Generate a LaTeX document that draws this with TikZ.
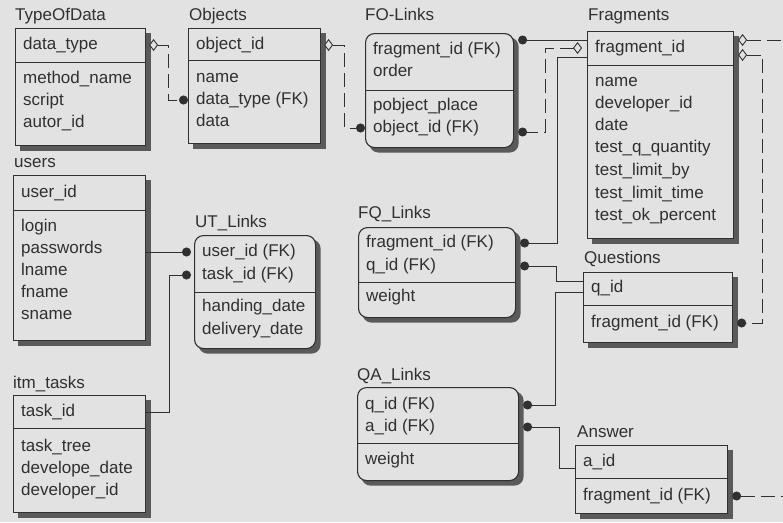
\documentclass[tikz,border=0pt]{standalone}
\usepackage{fontspec}
\setmainfont{Liberation Sans}
\usetikzlibrary{arrows.meta, backgrounds}

\definecolor{papel}{HTML}{E2E2E2}
\definecolor{tinta}{HTML}{303030}
\definecolor{sombra}{HTML}{5A5A5A}

\begin{document}
\begin{tikzpicture}[x=1pt, y=-1pt, font=\fontsize{17}{20}\selectfont,
    tabela/.style={draw=tinta, line width=1.1pt, fill=papel, anchor=north west, inner sep=0pt},
    ligtab/.style={tabela, rounded corners=9pt},
    campo/.style={anchor=west, inner sep=0pt, text height=12pt, text depth=3.5pt, text=tinta},
    linha/.style={draw=tinta, line width=0.9pt},
    tracejada/.style={linha, dash pattern=on 14pt off 6pt},
    ponto/.tip={Circle[length=9pt]},
    losango/.tip={Diamond[length=9pt, width=12pt, fill=papel]}]

    \useasboundingbox (0,0) rectangle (783,522);

    % TypeOfData
    \node[tabela, minimum width=130pt, minimum height=117pt] (tod) at (15,28) {};
    \node[campo] (tod-t) at (15,16) {TypeOfData};
    \draw[linha] (15,62) -- ++(130,0);
    \foreach \t/\y [count=\i from 0] in {data\_type/45, method\_name/79, script/101, autor\_id/123}
        \node[campo] (tod-\i) at (23,\y) {\t};

    % Objects
    \node[tabela, minimum width=132pt, minimum height=115pt] (obj) at (188,28) {};
    \node[campo] (obj-t) at (189,16) {Objects};
    \draw[linha] (188,60) -- ++(132,0);
    \foreach \t/\y [count=\i from 0] in {object\_id/45, name/78, data\_type (FK)/100, data/122}
        \node[campo] (obj-\i) at (196,\y) {\t};

    % FO-Links
    \node[ligtab, minimum width=148pt, minimum height=114pt] (fol) at (365,33) {};
    \node[campo] (fol-t) at (365,16) {FO-Links};
    \draw[linha] (365,90) -- ++(148,0);
    \foreach \t/\y [count=\i from 0] in {fragment\_id (FK)/50, order/72, pobject\_place/106, object\_id (FK)/128}
        \node[campo] (fol-\i) at (373,\y) {\t};

    % Fragments
    \node[tabela, minimum width=146pt, minimum height=207pt] (frag) at (587,31) {};
    \node[campo] (frag-t) at (588,16) {Fragments};
    \draw[linha] (587,65) -- ++(146,0);
    \foreach \t/\y [count=\i from 0] in {fragment\_id/48, name/82, developer\_id/104, date/126,
        test\_q\_quantity/148, test\_limit\_by/171, test\_limit\_time/194, test\_ok\_percent/216}
        \node[campo] (frag-\i) at (595,\y) {\t};

    % users
    \node[tabela, minimum width=132pt, minimum height=165pt] (usr) at (13,175) {};
    \node[campo] (usr-t) at (14,163) {users};
    \draw[linha] (13,210) -- ++(132,0);
    \foreach \t/\y [count=\i from 0] in {user\_id/193, login/227, passwords/249, lname/271, fname/293, sname/315}
        \node[campo] (usr-\i) at (21,\y) {\t};

    % UT_Links
    \node[ligtab, minimum width=121pt, minimum height=113pt] (ut) at (194,235) {};
    \node[campo] (ut-t) at (195,223) {UT\_Links};
    \draw[linha] (194,292) -- ++(121,0);
    \foreach \t/\y [count=\i from 0] in {user\_id (FK)/252, task\_id (FK)/275, handing\_date/307, delivery\_date/330}
        \node[campo] (ut-\i) at (202,\y) {\t};

    % itm_tasks
    \node[tabela, minimum width=132pt, minimum height=117pt] (itm) at (13,395) {};
    \node[campo] (itm-t) at (13,384) {itm\_tasks};
    \draw[linha] (13,428) -- ++(132,0);
    \foreach \t/\y [count=\i from 0] in {task\_id/412, task\_tree/447, develope\_date/469, developer\_id/491}
        \node[campo] (itm-\i) at (21,\y) {\t};

    % FQ_Links
    \node[ligtab, minimum width=157pt, minimum height=90pt] (fql) at (358,227) {};
    \node[campo] (fql-t) at (358,214) {FQ\_Links};
    \draw[linha] (358,282) -- ++(157,0);
    \foreach \t/\y [count=\i from 0] in {fragment\_id (FK)/243, q\_id (FK)/266, weight/297}
        \node[campo] (fql-\i) at (366,\y) {\t};

    % Questions
    \node[tabela, minimum width=149pt, minimum height=70pt] (qst) at (583,272) {};
    \node[campo] (qst-t) at (584,259) {Questions};
    \draw[linha] (583,305) -- ++(149,0);
    \foreach \t/\y [count=\i from 0] in {q\_id/288, fragment\_id (FK)/323}
        \node[campo] (qst-\i) at (591,\y) {\t};

    % QA_Links
    \node[ligtab, minimum width=161pt, minimum height=93pt] (qal) at (357,387) {};
    \node[campo] (qal-t) at (357,376) {QA\_Links};
    \draw[linha] (357,443) -- ++(161,0);
    \foreach \t/\y [count=\i from 0] in {q\_id (FK)/405, a\_id (FK)/427, weight/460}
        \node[campo] (qal-\i) at (365,\y) {\t};

    % Answer
    \node[tabela, minimum width=152pt, minimum height=68pt] (ans) at (575,445) {};
    \node[campo] (ans-t) at (577,433) {Answer};
    \draw[linha] (575,478) -- ++(152,0);
    \foreach \t/\y [count=\i from 0] in {a\_id/462, fragment\_id (FK)/496}
        \node[campo] (ans-\i) at (583,\y) {\t};

    % Fundo e sombras
    \begin{scope}[on background layer]
        \fill[papel] (0,0) rectangle (783,522);
        \foreach \n in {tod,obj,frag,usr,itm,qst,ans}
            \fill[sombra] ([shift={(4.5pt,-4.5pt)}]\n.south west) rectangle ([shift={(4.5pt,-4.5pt)}]\n.north east);
        \foreach \n in {fol,ut,fql,qal}
            \fill[sombra, rounded corners=9pt] ([shift={(4.5pt,-4.5pt)}]\n.south west) rectangle ([shift={(4.5pt,-4.5pt)}]\n.north east);
    \end{scope}

    % Ligacoes
    \coordinate (fora-1) at (783,40);
    \coordinate (fora-2) at (783,497);

    \draw[tracejada, losango-ponto] ([xshift=3pt]tod.east |- tod-0) -- ++(19,0) |- (obj.west |- obj-2);
    \draw[tracejada, losango-ponto] ([xshift=3pt]obj.east |- obj-0) -- ++(20,0) |- (fol.west |- fol-3);
    \draw[linha, ponto-] ([xshift=4pt,yshift=10pt]fol.east |- fol-0) -- ([yshift=10pt]frag.west |- fol-0);
    \draw[tracejada, losango-ponto] ([xshift=-5pt]frag.west |- frag-0) -- ++(-37,0) |- ([xshift=4pt,yshift=-4pt]fol.east |- fol-3);
    \draw[linha, -ponto] ([yshift=-9pt]frag.west |- frag-0) -- ++(-30,0) |- ([xshift=4pt]fql.east |- fql-0);
    \draw[linha, ponto-] ([xshift=4pt]fql.east |- fql-1) -- ++(36,0) |- ([yshift=7pt]qst.west |- qst-0);
    \draw[linha, ponto-] ([xshift=4pt]qal.east |- qal-0) -- ++(32,0) |- ([yshift=-4pt]qst.west |- qst-0);
    \draw[linha, ponto-] ([xshift=4pt]qal.east |- qal-1) -- ++(36,0) |- ([yshift=-6pt]ans.west |- ans-0);
    \draw[linha, -ponto] (usr.east |- ut-0) -- ([xshift=-3pt]ut.west |- ut-0);
    \draw[linha, -ponto] (itm.east |- itm-0) -- ++(23,0) |- ([xshift=-3pt]ut.west |- ut-1);
    \draw[tracejada, losango-] ([xshift=4pt]frag.east |- fora-1) -- (fora-1);
    \draw[tracejada, losango-ponto] ([xshift=4pt,yshift=-7pt]frag.east |- frag-0) -- ++(24,0) |- ([xshift=4pt]qst.east |- qst-1);
    \draw[tracejada, ponto-] ([xshift=4pt]ans.east |- ans-1) -- (fora-2 |- ans-1);
\end{tikzpicture}
\end{document}
